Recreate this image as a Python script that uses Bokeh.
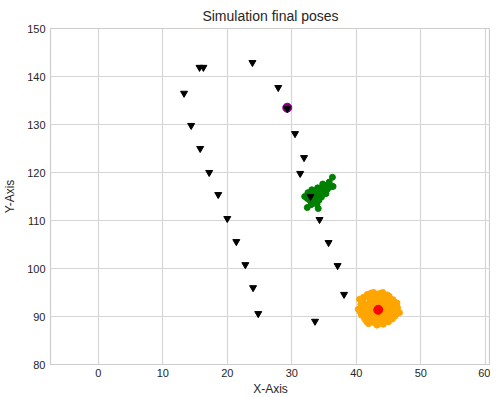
from bokeh.plotting import figure
from bokeh.models import Range1d, SingleIntervalTicker
from bokeh.embed import file_html
from bokeh.resources import INLINE

# Black inverted triangles (simulation poses)
tri_x = [23.9, 15.7, 16.3, 27.9, 13.3, 29.3, 14.4, 30.5, 15.8, 31.9, 17.2, 31.3,
         18.6, 32.9, 20.0, 34.3, 21.4, 35.7, 22.8, 37.1, 24.0, 38.1, 24.8, 33.6]
tri_y = [142.9, 141.9, 141.9, 137.7, 136.5, 133.3, 129.8, 128.1, 125.0, 123.1, 120.0, 119.8,
         115.4, 115.0, 110.4, 110.2, 105.6, 105.4, 100.8, 100.6, 96.0, 94.6, 90.6, 89.0]

# Green cluster
green_x = [32.0, 32.5, 33.0, 33.2, 33.6, 33.8, 34.1, 34.4, 34.6, 34.9, 35.2, 35.5, 35.7,
           35.0, 34.2, 33.4, 32.8, 33.9, 34.6, 35.3, 34.0, 33.1, 32.4, 36.0, 35.8, 34.8,
           33.6, 36.3, 36.4, 32.4, 34.1, 33.0]
green_y = [115.0, 115.8, 114.6, 115.5, 116.0, 114.8, 115.3, 116.4, 115.9, 116.9, 117.2, 116.5, 117.6,
           116.0, 114.2, 113.8, 114.2, 113.4, 114.9, 115.6, 116.8, 116.4, 114.6, 117.0, 118.0, 117.6,
           115.2, 119.0, 117.1, 112.7, 112.5, 113.3]

# Orange cluster
orange_x = [43.4, 42.5, 44.2, 42.8, 44.0, 43.1, 43.9, 42.0, 44.8, 43.5, 42.3, 45.0, 41.6, 44.5,
            42.9, 41.5, 45.3, 43.0, 44.4, 42.1, 45.6, 41.2, 43.7, 42.6, 44.9, 41.0, 45.7, 43.6,
            42.4, 45.1, 40.7, 46.1, 40.3, 46.7, 41.9, 44.2, 45.6, 40.8, 44.1, 41.7, 42.7, 46.0,
            40.5, 46.3, 43.2, 45.0, 41.3, 43.9, 42.9, 43.8, 42.2, 44.7, 41.9, 44.6, 43.3, 42.6,
            44.3, 43.0, 45.4, 41.4, 43.5, 42.0, 45.2, 40.9, 44.0, 42.4, 45.9, 41.1, 46.4, 43.8,
            44.8, 42.8, 40.6, 45.5, 41.6, 43.1, 44.6, 42.3, 46.2, 43.6]
orange_y = [91.4, 92.0, 92.3, 90.6, 90.5, 93.0, 93.4, 91.3, 91.6, 89.9, 93.4, 92.8, 92.4, 89.8,
            89.6, 90.8, 91.0, 94.0, 94.1, 89.9, 92.2, 91.8, 88.9, 88.8, 90.2, 93.2, 93.5, 94.8,
            94.4, 94.2, 92.5, 91.4, 91.5, 90.8, 88.5, 88.4, 89.5, 90.3, 95.0, 94.6, 95.0, 90.1,
            93.6, 92.8, 88.2, 88.9, 89.5, 92.0, 92.6, 90.9, 90.9, 93.0, 93.9, 91.0, 92.5, 91.6,
            91.8, 90.2, 93.0, 90.1, 93.7, 92.7, 89.9, 92.0, 89.2, 89.3, 93.0, 94.0, 91.8, 88.5,
            94.5, 93.8, 91.0, 90.6, 88.9, 89.4, 92.6, 94.9, 90.5, 91.9]

red_x = [43.4]
red_y = [91.4]
purple_x = [29.3]
purple_y = [133.5]

FONT = "Liberation Sans"
TXT = "#262626"

p = figure(frame_width=440, frame_height=336, output_backend="svg", toolbar_location=None,
           title="Simulation final poses",
           x_range=Range1d(-7.4, 60.8), y_range=Range1d(80, 150),
           min_border_top=0, min_border_right=0, min_border_bottom=0, min_border_left=0)

p.title.align = "center"
p.title.text_font = FONT
p.title.text_font_size = "14px"
p.title.text_font_style = "normal"
p.title.text_color = TXT

p.background_fill_color = "white"
p.outline_line_color = "#cccccc"
p.outline_line_width = 1.2

for ax in (p.xaxis, p.yaxis):
    ax.axis_line_color = None
    ax.major_tick_line_color = None
    ax.minor_tick_line_color = None
    ax.major_tick_out = 0
    ax.major_tick_in = 0
    ax.minor_tick_out = 0
    ax.minor_tick_in = 0
    ax.major_label_text_font = FONT
    ax.major_label_text_font_size = "11px"
    ax.major_label_text_color = TXT
    ax.axis_label_text_font = FONT
    ax.axis_label_text_font_size = "12px"
    ax.axis_label_text_font_style = "normal"
    ax.axis_label_text_color = TXT

p.xaxis.major_label_standoff = 4
p.xaxis.axis_label_standoff = 2
p.yaxis.major_label_standoff = 5
p.yaxis.axis_label_standoff = 7

p.xaxis.axis_label = "X-Axis"
p.yaxis.axis_label = "Y-Axis"
p.xaxis.ticker = SingleIntervalTicker(interval=10, num_minor_ticks=0)
p.yaxis.ticker = SingleIntervalTicker(interval=10, num_minor_ticks=0)

p.grid.grid_line_color = "#d6d6d6"
p.grid.grid_line_width = 1.2

p.scatter(green_x, green_y, size=6, marker="circle", fill_color="green", line_color="green")
p.scatter(orange_x, orange_y, size=6, marker="circle", fill_color="orange", line_color="orange")
p.scatter(red_x, red_y, size=9, marker="circle", fill_color="red", line_color="red")
p.scatter(purple_x, purple_y, size=9, marker="circle", fill_color="purple", line_color="purple")
p.scatter(tri_x, tri_y, size=7, marker="inverted_triangle", fill_color="black", line_color="black")

open("out.html", "w").write(file_html(p, INLINE))
